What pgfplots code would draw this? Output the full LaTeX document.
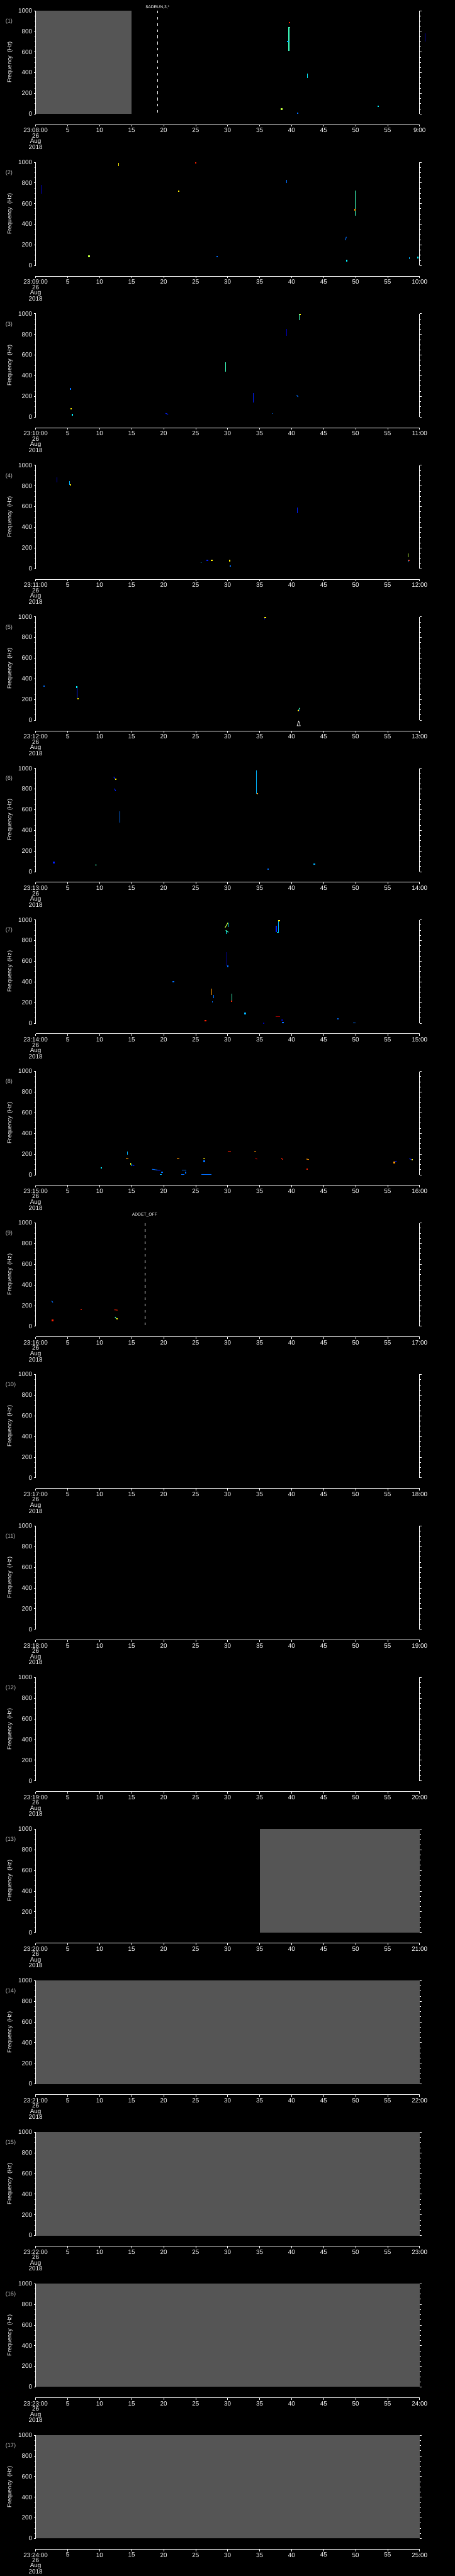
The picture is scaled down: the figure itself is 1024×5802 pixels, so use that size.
\documentclass[border=0pt]{standalone}
\usepackage{fontspec}
\setmainfont{Liberation Sans}
\usepackage{pgfplots}
\pgfplotsset{compat=1.18}
\definecolor{jnavy}{RGB}{0,0,180}
\definecolor{jblue}{RGB}{0,30,255}
\definecolor{jlblue}{RGB}{0,110,255}
\definecolor{jcblue}{RGB}{0,180,255}
\definecolor{jcyan}{RGB}{0,240,255}
\definecolor{jcgreen}{RGB}{60,255,190}
\definecolor{jgreen}{RGB}{130,255,125}
\definecolor{jygreen}{RGB}{190,255,60}
\definecolor{jyellow}{RGB}{255,240,0}
\definecolor{jorange}{RGB}{255,150,0}
\definecolor{jred}{RGB}{255,30,0}
\definecolor{jdred}{RGB}{170,0,0}
\definecolor{grayc}{RGB}{85,85,85}
\definecolor{plabel}{RGB}{190,190,190}
\newcommand{\vl}[5][1.5pt]{\addplot[color=#2, line width=#1] coordinates {(#3,#4) (#3,#5)};}
\newcommand{\sg}[6][1.5pt]{\addplot[color=#2, line width=#1] coordinates {(#3,#4) (#5,#6)};}
\newcommand{\dt}[3]{\addplot[only marks, mark=square*, mark size=1pt, color=#1] coordinates {(#2,#3)};}
\newcommand{\plab}[1]{\node[anchor=west, xshift=-68pt, text=plabel, font=\fontsize{13}{13}\selectfont, inner sep=0pt] at (axis description cs:0,0.897) {(#1)};}
\newcommand{\grayfill}[2]{\addplot[fill=grayc, draw=none] coordinates {(#1,1000) (#2,1000)} \closedcycle;}
\pgfplotsset{
  panel/.style={
    scale only axis, width=864.2pt, height=232.7pt,
    xmin=0, xmax=60, ymin=0, ymax=1000, clip=false,
    anchor=north west,
    separate axis lines,
    x axis line style={draw=none},
    y axis line style={white, line width=1pt},
    xtick=\empty,
    ytick={0,200,400,600,800,1000},
    minor y tick num=3,
    tick align=outside,
    yticklabel pos=left,
    major tick length=4.5pt, minor tick length=3pt,
    every tick/.style={white, line width=1pt},
    yticklabel={\pgfmathparse{int(\tick)}\pgfmathresult},
    y tick label style={font=\fontsize{14}{14}\selectfont, text=white},
    ylabel={Frequency~~(Hz)},
    every axis y label/.style={at={(axis description cs:0,0.5)}, xshift=-58pt, rotate=90, anchor=center, text=white, font=\fontsize{13}{13}\selectfont},
  },
  tax/.style={
    scale only axis, width=864.2pt, height=2pt,
    xmin=0, xmax=60, ymin=0, ymax=1,
    anchor=south west,
    axis x line=bottom, axis y line=none,
    axis line style={-, white, line width=1.2pt},
    xtick={0,5,...,60}, tick align=outside,
    major tick length=4.7pt,
    every tick/.style={white, line width=1pt},
    x tick label style={font=\fontsize{14}{12}\selectfont, text=white, anchor=north, align=center},
  },
}
\newcommand{\taxis}[3]{%
  \begin{axis}[tax, at={(80.3pt,#1pt)}, xticklabels={{23:#2:00\\26\\Aug\\2018},5,10,15,20,25,30,35,40,45,50,55,#3}]
  \end{axis}}
\begin{document}
\begin{tikzpicture}
\fill[black, use as bounding box] (0,0) rectangle (1024pt,-5802pt);
% ---------- panel 1
\begin{axis}[panel, at={(80.3pt,-24pt)}]
\grayfill{0}{15}
\addplot[white, line width=1pt, dash pattern=on 6pt off 8pt] coordinates {(19.05,1000) (19.05,0)};
\node[text=white, font=\fontsize{9.5}{9.5}\selectfont, anchor=south, inner sep=0pt, yshift=4pt] at (axis cs:19.05,1000) {\$ADRUN,3,*};
\vl[1pt]{jcgreen}{39.53}{612}{840}
\vl[1pt]{jcgreen}{39.72}{612}{840}
\sg[1pt]{jcgreen}{39.5}{840}{39.75}{840}
\dt{jred}{39.6}{885}
\dt{jcblue}{39.4}{705}
\vl{jcyan}{42.5}{350}{390}
\dt{jygreen}{38.4}{49}
\dt{jlblue}{40.9}{10}
\dt{jcyan}{53.5}{77}
\vl{jnavy}{60.9}{700}{780}
\plab{1}
\end{axis}
\taxis{-280.7}{08}{9:00}
% ---------- panel 2
\begin{axis}[panel, at={(80.3pt,-365.3pt)}]
\vl{jnavy}{0.9}{696}{779}
\vl{jyellow}{13.0}{964}{996}
\dt{jred}{25.0}{996}
\dt{jyellow}{22.3}{722}
\vl{jlblue}{39.2}{796}{829}
\vl{jcgreen}{49.9}{484}{726}
\dt{jorange}{49.85}{541}
\sg{jlblue}{48.4}{245}{48.55}{277}
\dt{jcyan}{48.6}{50}
\dt{jygreen}{8.3}{91}
\dt{jlblue}{28.3}{87}
\vl{jcblue}{58.4}{63}{81}
\dt{jcyan}{59.7}{80}
\plab{2}
\end{axis}
\taxis{-622.0}{09}{10:00}
% ---------- panel 3
\begin{axis}[panel, at={(80.3pt,-706.6pt)}]
\vl{jcgreen}{41.2}{938}{996}
\dt{jyellow}{41.3}{996}
\vl{jnavy}{39.2}{789}{850}
\vl{jcgreen}{29.7}{436}{531}
\vl{jblue}{34.0}{138}{235}
\dt{jlblue}{5.4}{275}
\dt{jyellow}{5.5}{82}
\dt{jcyan}{5.7}{23}
\sg{jblue}{20.3}{36}{20.7}{26}
\vl{jlblue}{37.1}{32}{40}
\sg{jlblue}{40.8}{212}{41.0}{195}
\plab{3}
\end{axis}
\taxis{-963.3}{10}{11:00}
% ---------- panel 4
\begin{axis}[panel, at={(80.3pt,-1047.9pt)}]
\vl{jnavy}{3.35}{835}{885}
\vl{jcblue}{5.3}{811}{847}
\dt{jyellow}{5.4}{811}
\vl{jblue}{40.9}{537}{588}
\vl{jcblue}{25.8}{55}{63}
\dt{jblue}{26.8}{83}
\dt{jyellow}{27.5}{83}
\dt{jyellow}{30.3}{79}
\dt{jlblue}{30.4}{27}
\vl{jygreen}{58.2}{109}{148}
\vl{jcblue}{58.2}{60}{83}
\dt{jred}{58.3}{83}
\plab{4}
\end{axis}
\taxis{-1304.6}{11}{12:00}
% ---------- panel 5
\begin{axis}[panel, at={(80.3pt,-1389.2pt)}]
\vl{jnavy}{35.8}{973}{996}
\dt{jyellow}{35.85}{996}
\dt{jlblue}{1.3}{332}
\vl{jblue}{6.5}{211}{321}
\dt{jcyan}{6.4}{321}
\dt{jyellow}{6.6}{211}
\sg{jcgreen}{41.3}{118}{41.1}{100}
\dt{jblue}{41.1}{95}
\dt{jyellow}{41.0}{92}
\addplot[white, line width=1pt] coordinates {(41.1,-8) (40.85,-55) (41.35,-55) (41.1,-8)};
\plab{5}
\end{axis}
\taxis{-1645.9}{12}{13:00}
% ---------- panel 6
\begin{axis}[panel, at={(80.3pt,-1730.5pt)}]
\sg{jblue}{12.2}{918}{12.4}{895}
\dt{jyellow}{12.5}{895}
\sg{jblue}{12.3}{804}{12.5}{781}
\vl[1pt]{jlblue}{13.1}{472}{583}
\vl[1pt]{jcblue}{34.5}{756}{979}
\dt{jorange}{34.6}{756}
\dt{jblue}{2.8}{90}
\vl{jcgreen}{9.4}{55}{75}
\dt{jlblue}{36.3}{27}
\dt{jcblue}{43.5}{75}
\plab{6}
\end{axis}
\taxis{-1987.2}{13}{14:00}
% ---------- panel 7
\begin{axis}[panel, at={(80.3pt,-2071.8pt)}]
\sg{jygreen}{29.6}{925}{30.05}{973}
\vl{jcyan}{30.05}{930}{973}
\vl{jcyan}{29.8}{862}{899}
\sg{jcgreen}{29.7}{899}{30.1}{880}
\vl[1pt]{jnavy}{29.85}{553}{688}
\dt{jlblue}{30.0}{553}
\vl{jblue}{37.6}{885}{940}
\vl{jcblue}{37.95}{879}{993}
\dt{jyellow}{38.0}{993}
\sg{jcyan}{37.7}{881}{38.0}{881}
\dt{jlblue}{21.5}{405}
\vl[1pt]{jorange}{27.5}{275}{333}
\vl{jlblue}{27.8}{240}{275}
\vl{jlblue}{27.6}{198}{212}
\vl{jcgreen}{30.7}{215}{287}
\dt{jred}{30.6}{215}
\dt{jcblue}{32.7}{96}
\sg{jdred}{37.5}{66}{38.2}{66}
\dt{jnavy}{38.5}{32}
\dt{jlblue}{38.6}{6}
\dt{jnavy}{35.6}{1}
\dt{jred}{26.5}{27}
\dt{jlblue}{47.2}{46}
\sg{jlblue}{49.6}{1}{50.0}{1}
\plab{7}
\end{axis}
\taxis{-2328.5}{14}{15:00}
% ---------- panel 8
\begin{axis}[panel, at={(80.3pt,-2413.1pt)}]
\vl{jcblue}{14.3}{194}{225}
\sg{jorange}{14.1}{152}{14.5}{152}
\vl{jyellow}{14.8}{98}{112}
\vl{jcyan}{15.0}{86}{106}
\sg{jblue}{15.1}{95}{15.4}{86}
\dt{jcyan}{10.2}{70}
\sg{jlblue}{18.2}{53}{19.0}{45}
\sg{jblue}{19.0}{45}{19.5}{42}
\dt{jlblue}{19.7}{26}
\sg{jcblue}{19.4}{1}{19.7}{1}
\sg{jlblue}{22.8}{46}{23.5}{46}
\dt{jlblue}{23.4}{23}
\sg{jlblue}{22.7}{1}{23.2}{1}
\sg{jlblue}{25.9}{1}{27.5}{1}
\sg{jorange}{22.1}{152}{22.5}{152}
\sg{jyellow}{26.2}{152}{26.5}{152}
\dt{jlblue}{26.3}{131}
\sg{jred}{30.0}{230}{30.5}{230}
\sg{jorange}{34.2}{230}{34.5}{230}
\sg{jdred}{34.3}{161}{34.6}{151}
\sg{jred}{38.4}{161}{38.6}{146}
\sg{jorange}{42.3}{152}{42.7}{147}
\dt{jred}{42.4}{56}
\sg{jblue}{56.0}{124}{56.4}{131}
\dt{jorange}{56.0}{121}
\sg{jblue}{58.4}{156}{58.7}{146}
\dt{jyellow}{58.8}{148}
\plab{8}
\end{axis}
\taxis{-2669.8}{15}{16:00}
% ---------- panel 9
\begin{axis}[panel, at={(80.3pt,-2754.4pt)}]
\addplot[white, line width=1pt, dash pattern=on 6pt off 8pt] coordinates {(17.03,1000) (17.03,0)};
\node[text=white, font=\fontsize{9.5}{9.5}\selectfont, anchor=south, inner sep=0pt, yshift=13.5pt] at (axis cs:17.03,1000) {ADDET\_OFF};
\sg{jlblue}{2.5}{245}{2.7}{230}
\sg{jred}{7.0}{163}{7.2}{163}
\sg{jred}{12.3}{159}{12.8}{156}
\sg{jcgreen}{12.4}{90}{12.6}{75}
\dt{jyellow}{12.7}{73}
\dt{jred}{2.6}{60}
\plab{9}
\end{axis}
\taxis{-3011.1}{16}{17:00}
% ---------- panel 10
\begin{axis}[panel, at={(80.3pt,-3095.7pt)}]
\plab{10}
\end{axis}
\taxis{-3352.4}{17}{18:00}
% ---------- panel 11
\begin{axis}[panel, at={(80.3pt,-3437.0pt)}]
\plab{11}
\end{axis}
\taxis{-3693.7}{18}{19:00}
% ---------- panel 12
\begin{axis}[panel, at={(80.3pt,-3778.3pt)}]
\plab{12}
\end{axis}
\taxis{-4035.0}{19}{20:00}
% ---------- panel 13
\begin{axis}[panel, at={(80.3pt,-4119.6pt)}]
\grayfill{35}{60}
\plab{13}
\end{axis}
\taxis{-4376.3}{20}{21:00}
% ---------- panel 14
\begin{axis}[panel, at={(80.3pt,-4460.9pt)}]
\grayfill{0}{60}
\plab{14}
\end{axis}
\taxis{-4717.6}{21}{22:00}
% ---------- panel 15
\begin{axis}[panel, at={(80.3pt,-4802.2pt)}]
\grayfill{0}{60}
\plab{15}
\end{axis}
\taxis{-5058.9}{22}{23:00}
% ---------- panel 16
\begin{axis}[panel, at={(80.3pt,-5143.5pt)}]
\grayfill{0}{60}
\plab{16}
\end{axis}
\taxis{-5400.2}{23}{24:00}
% ---------- panel 17
\begin{axis}[panel, at={(80.3pt,-5484.8pt)}]
\grayfill{0}{60}
\plab{17}
\end{axis}
\taxis{-5741.5}{24}{25:00}
\end{tikzpicture}
\end{document}
